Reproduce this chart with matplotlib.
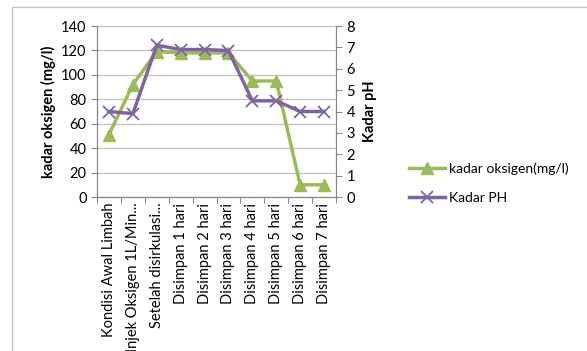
import matplotlib
matplotlib.use("Agg")
import matplotlib.pyplot as plt
from matplotlib.patches import Rectangle
import numpy as np

plt.rcParams['font.family'] = ['Lato', 'DejaVu Sans']

kategori = ["Kondisi Awal Limbah", "Injek Oksigen 1L/Min...", "Setelah disirkulasi...",
            "Disimpan 1 hari", "Disimpan 2 hari", "Disimpan 3 hari", "Disimpan 4 hari",
            "Disimpan 5 hari", "Disimpan 6 hari", "Disimpan 7 hari"]
oksigen = [51, 92, 119, 118, 118, 118, 95, 95, 10, 10]
ph = [4.0, 3.9, 7.1, 6.9, 6.9, 6.85, 4.5, 4.5, 4.0, 4.0]

hijau = "#9BBB59"
ungu = "#8064A2"
abu = "#878787"

fig = plt.figure(figsize=(5.87, 3.51), dpi=100)
fig.patches.append(Rectangle((12/587, -0.1), 1.2, 1.1 - 7/351, transform=fig.transFigure,
                             fill=False, edgecolor="#BFBFBF", linewidth=1))
ax = fig.add_axes([97/587, 1 - 197/351, (336-97)/587, (197-26)/351])
ax2 = ax.twinx()

x = np.arange(len(kategori))
l1, = ax.plot(x, oksigen, color=hijau, linewidth=2.5, marker="^", markersize=9,
              markerfacecolor=hijau, markeredgecolor=hijau, zorder=3)
l2, = ax2.plot(x, ph, color=ungu, linewidth=2.5, marker="x", markersize=9,
               markeredgewidth=1.3, markeredgecolor=ungu, zorder=3)

ax.set_xlim(-0.5, len(kategori) - 0.5)
ax.set_ylim(0, 140)
ax.set_yticks(range(0, 141, 20))
ax2.set_ylim(0, 8)
ax2.set_yticks(range(0, 9))

ax.set_xticks(np.arange(-0.5, len(kategori), 1))
ax.set_xticklabels([])
ax.set_xticks(x, minor=True)
ax.set_xticklabels(kategori, minor=True, rotation=90, fontsize=10.5)
ax.tick_params(axis='x', which='minor', length=0, pad=4)
ax.tick_params(axis='x', which='major', length=4, color=abu)

ax.grid(axis='y', color="#BFBFBF", linewidth=0.9)
ax.set_axisbelow(True)
for a in (ax, ax2):
    a.spines['top'].set_visible(False)
    for s in ('left', 'right', 'bottom'):
        a.spines[s].set_color(abu)
ax.tick_params(axis='y', length=4, color=abu, labelsize=10.5)
ax2.tick_params(axis='y', length=4, color=abu, labelsize=10.5)

ax.set_ylabel("kadar oksigen (mg/l)", fontsize=10.5, fontweight='bold', labelpad=4)
ax2.set_ylabel("Kadar pH", fontsize=10.5, fontweight='bold', labelpad=6)

fig.legend([l1, l2], ["kadar oksigen(mg/l)", "Kadar PH"], loc="upper left",
           bbox_to_anchor=(396/587, 1 - 150/351), frameon=False, fontsize=10,
           handlelength=2.6, labelspacing=1.2, handletextpad=0.3)

fig.savefig("out.png", dpi=100)
